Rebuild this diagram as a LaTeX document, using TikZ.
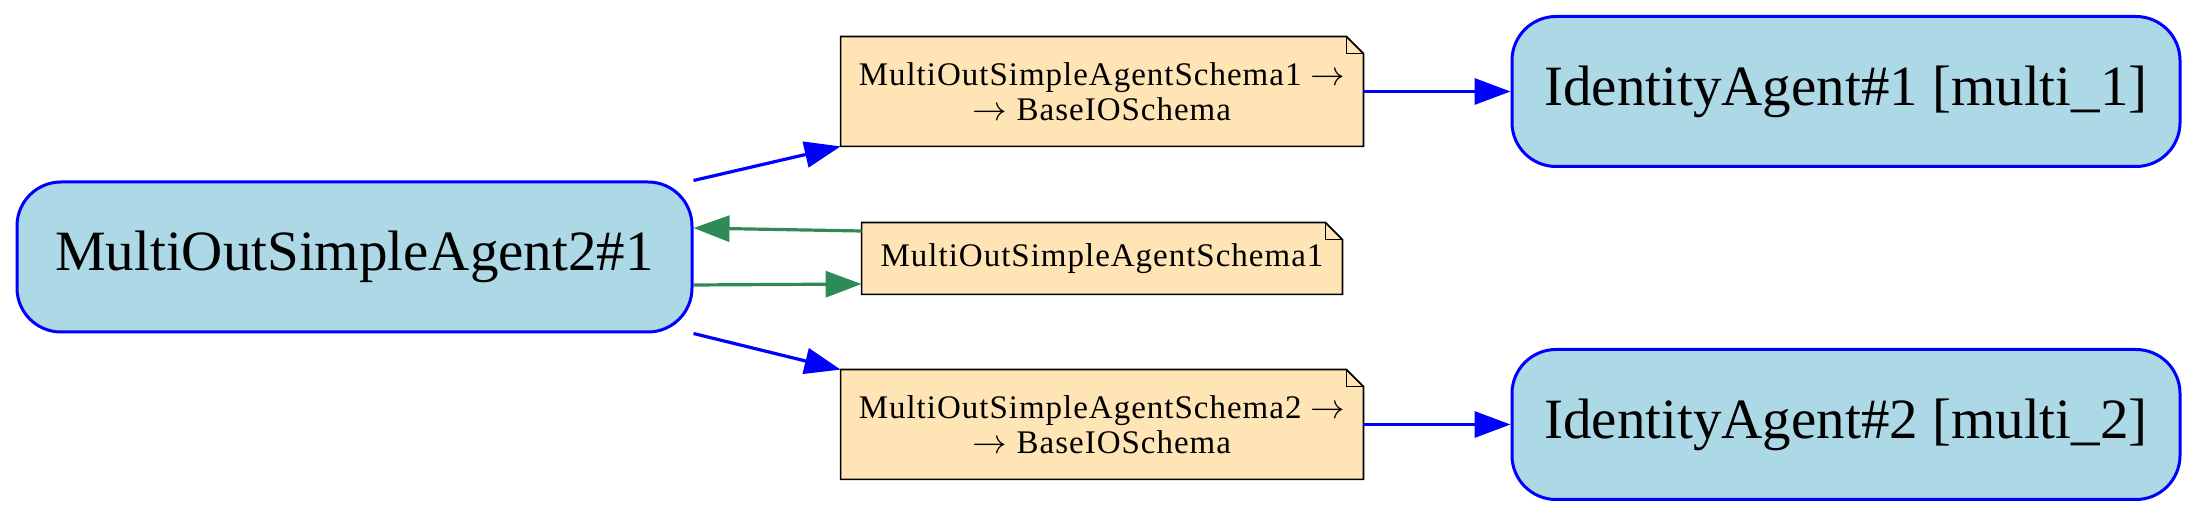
\documentclass[tikz,border=0pt]{standalone}
\usepackage{fontspec}
\setmainfont{Liberation Serif}
\newfontfamily\notefont[LetterSpace=3]{Liberation Serif}
\usetikzlibrary{arrows.meta,backgrounds}
\definecolor{nodefill}{HTML}{ADD8E6}
\definecolor{notefill}{HTML}{FFE4B5}
\definecolor{edgegreen}{HTML}{2E8B57}
\newcommand{\rarr}{\ensuremath{\rightarrow}}
\tikzset{
  agent/.style={draw=blue, fill=nodefill, line width=1.5pt, rounded corners=22pt,
    minimum height=75pt, inner sep=0pt, font=\fontsize{28.5}{30}\selectfont},
  notebox/.style={inner sep=0pt, align=center, font={\notefont\fontsize{16.5}{17.5}\selectfont}},
  noteshape/.style={draw=black, fill=notefill, line width=0.85pt, line join=miter},
  blueedge/.style={draw=blue, line width=1.6pt, -{Triangle[length=18pt,width=13pt]}},
  greenedge/.style={draw=edgegreen, line width=1.6pt, -{Triangle[length=18pt,width=13pt]}}
}
\newcommand{\drawnote}[1]{%
  \path[noteshape] (#1.north west) -- ([xshift=-8.5pt]#1.north east) -- ([yshift=-8.5pt]#1.north east)
    -- (#1.south east) -- (#1.south west) -- cycle;
  \draw[line width=0.85pt] ([xshift=-8.5pt]#1.north east) -- ([xshift=-8.5pt,yshift=-8.5pt]#1.north east)
    -- ([yshift=-8.5pt]#1.north east);
}
\begin{document}
\begin{tikzpicture}[x=0.5pt,y=-0.5pt]
\useasboundingbox (0,0) rectangle (2196,517);
\node[agent, minimum width=337.5pt] (main) at (354.5,257) {MultiOutSimpleAgent2\#1};
\node[agent, minimum width=334pt] (id1) at (1846,91.5) {IdentityAgent\#1 [multi\_1]};
\node[agent, minimum width=334pt] (id2) at (1846,424.5) {IdentityAgent\#2 [multi\_2]};
\node[notebox, minimum width=261pt, minimum height=54.5pt] (n1) at (1102,91.5)
  {MultiOutSimpleAgentSchema1 \rarr\\\rarr{} BaseIOSchema};
\node[notebox, minimum width=240pt, minimum height=35.5pt] (n2) at (1102,258.5)
  {MultiOutSimpleAgentSchema1};
\node[notebox, minimum width=261pt, minimum height=54.5pt] (n3) at (1102,424.5)
  {MultiOutSimpleAgentSchema2 \rarr\\\rarr{} BaseIOSchema};
\begin{pgfonlayer}{background}
  \drawnote{n1}
  \drawnote{n2}
  \drawnote{n3}
\end{pgfonlayer}
\draw[blueedge] (main.north east) -- (n1.south west);
\draw[blueedge] (main.south east) -- (n3.north west);
\draw[greenedge] ([yshift=13.75pt]n2.west) -- ([yshift=14.5pt]main.east);
\draw[greenedge] ([yshift=-14pt]main.east) -- ([yshift=-12.75pt]n2.west);
\draw[blueedge] (n1.east) -- (id1.west);
\draw[blueedge] (n3.east) -- (id2.west);
\end{tikzpicture}
\end{document}
